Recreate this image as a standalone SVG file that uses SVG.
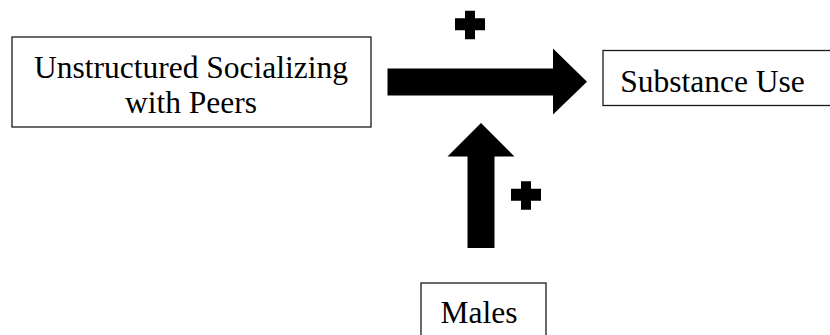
<svg xmlns="http://www.w3.org/2000/svg" width="830" height="335" viewBox="0 0 830 335">
  <style>
    .box { fill: #ffffff; stroke: #1a1a1a; stroke-width: 1.3; }
    .label { font-size: 31.5px; fill: #000000; text-anchor: middle; }
    .shape { fill: #000000; }
  </style>
  <defs>
    <!-- plus sign, top-left corner at the origin -->
    <path id="plus" d="M10,0 H20 V7.5 H30 V19.5 H20 V28.5 H10 V19.5 H0 V7.5 H10 Z"/>
  </defs>
  <rect width="830" height="335" fill="#ffffff"/>

  <g font-family="'Liberation Serif', 'Times New Roman', 'DejaVu Serif', serif">
    <g id="node-socializing">
      <rect class="box" x="12" y="37" width="359" height="90"/>
      <text class="label" x="191" y="78">Unstructured Socializing</text>
      <text class="label" x="191" y="113">with Peers</text>
    </g>

    <g id="node-substance">
      <rect class="box" x="603" y="50.5" width="240" height="55"/>
      <text class="label" x="712.5" y="92">Substance Use</text>
    </g>

    <g id="node-males">
      <rect class="box" x="421" y="283" width="125" height="70"/>
      <text class="label" x="479" y="323">Males</text>
    </g>
  </g>

  <g id="connectors">
    <!-- main effect: socializing to substance use -->
    <path class="shape" d="M387.5,68.5 H553 V48.5 L587,81.7 L553,114.5 V95.5 H387.5 Z"/>
    <use href="#plus" class="shape" x="455" y="10.7"/>
    <!-- moderator: males onto the main path -->
    <path class="shape" d="M467.5,248 V156.5 H447.5 L481,123 L514.5,156.5 H494.5 V248 Z"/>
    <use href="#plus" class="shape" x="511" y="181.3"/>
  </g>
</svg>
